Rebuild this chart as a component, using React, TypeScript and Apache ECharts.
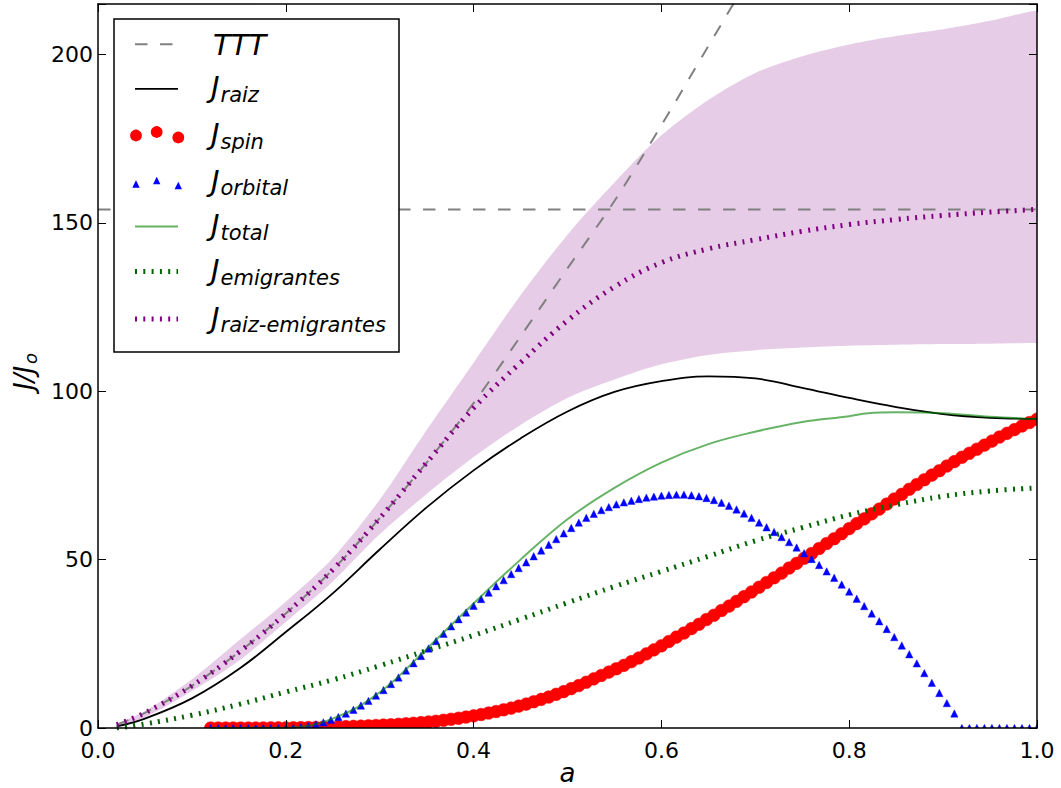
import { useEffect, useRef } from 'react';
import * as echarts from 'echarts';

// ---------- data ----------
const aCurve = [0.02, 0.05, 0.1, 0.15, 0.2, 0.25, 0.3, 0.35, 0.4, 0.45, 0.5, 0.55, 0.6, 0.65, 0.7, 0.75, 0.8, 0.85, 0.9, 0.95, 1.0];
const jRaiz = [0.5, 2.8, 8.8, 17.5, 28.5, 40, 53, 65.5, 76.5, 86, 94, 99.8, 103, 104.4, 103.8, 101, 98, 95.3, 93.2, 92.1, 91.8];
const jRaizEmig = [1, 4.5, 12.5, 22.5, 34, 47, 62.3, 78.8, 95, 108.5, 121, 131, 138.2, 142.3, 145, 147.5, 149.5, 151, 152.2, 153.2, 154];
const jEmig = [0, 1.2, 3.8, 7.0, 10.7, 14.3, 18.5, 23, 27.5, 32.3, 37.2, 42, 46.5, 51, 55.6, 59.5, 63.3, 66.3, 68.8, 70.4, 71.3];
const bandLow = [0.6, 3.2, 11, 20, 31.5, 43.5, 57.5, 69.5, 80.5, 90, 98, 103.5, 108, 110.8, 112.2, 113, 113.5, 113.8, 114, 114.1, 114.3];
const bandHigh = [1.3, 5, 14.5, 26, 37.5, 50.5, 67.8, 88.5, 108.5, 128.5, 146.5, 162, 176, 186.5, 194.5, 199.5, 203, 205.5, 207.5, 210, 213];

const aTTT = [0.02, 0.05, 0.1, 0.15, 0.2, 0.25, 0.3, 0.35, 0.4, 0.45, 0.5, 0.55, 0.6, 0.65, 0.7];
const jTTT = [1, 4.5, 12.5, 22.5, 34, 47, 62.3, 78.8, 96.5, 116.3, 136.5, 156.5, 179, 202.5, 226];
const tttLevel = 154;

const aTotal = [0.12, 0.2, 0.25, 0.3, 0.35, 0.4, 0.45, 0.5, 0.55, 0.6, 0.65, 0.7, 0.75, 0.8, 0.82, 0.85, 0.9, 0.95, 1.0];
const jTotal = [0, 0.1, 2.8, 10.6, 23.5, 37, 50, 62, 71.3, 78.8, 84.3, 88, 90.9, 92.6, 93.5, 93.8, 93.5, 92.4, 91.8];

const aMarks = [
  0.12, 0.128, 0.136, 0.144, 0.152, 0.16, 0.168, 0.176, 0.184, 0.192,
  0.2, 0.208, 0.216, 0.224, 0.232, 0.24, 0.248, 0.256, 0.264, 0.272,
  0.28, 0.288, 0.296, 0.304, 0.312, 0.32, 0.328, 0.336, 0.344, 0.352,
  0.36, 0.368, 0.376, 0.384, 0.392, 0.4, 0.408, 0.416, 0.424, 0.432,
  0.44, 0.448, 0.456, 0.464, 0.472, 0.48, 0.488, 0.496, 0.504, 0.512,
  0.52, 0.528, 0.536, 0.544, 0.552, 0.56, 0.568, 0.576, 0.584, 0.592,
  0.6, 0.608, 0.616, 0.624, 0.632, 0.64, 0.648, 0.656, 0.664, 0.672,
  0.68, 0.688, 0.696, 0.704, 0.712, 0.72, 0.728, 0.736, 0.744, 0.752,
  0.76, 0.768, 0.776, 0.784, 0.792, 0.8, 0.808, 0.816, 0.824, 0.832,
  0.84, 0.848, 0.856, 0.864, 0.872, 0.88, 0.888, 0.896, 0.904, 0.912,
  0.92, 0.928, 0.936, 0.944, 0.952, 0.96, 0.968, 0.976, 0.984, 0.992,
  1.0,
];
const jSpin = [
  0, 0, 0, 0, 0, 0, 0.01, 0.02, 0.03, 0.04,
  0.05, 0.07, 0.1, 0.13, 0.16, 0.2, 0.26, 0.33, 0.4, 0.47,
  0.55, 0.65, 0.76, 0.87, 0.98, 1.1, 1.26, 1.43, 1.6, 1.8,
  2.0, 2.3, 2.6, 2.9, 3.25, 3.6, 4.0, 4.45, 4.9, 5.4,
  5.9, 6.5, 7.1, 7.8, 8.5, 9.2, 10.0, 10.8, 11.7, 12.6,
  13.6, 14.6, 15.6, 16.6, 17.6, 18.6, 19.7, 20.8, 22.0, 23.2,
  24.4, 25.7, 27.0, 28.2, 29.5, 30.8, 32.2, 33.5, 34.9, 36.2,
  37.6, 39.0, 40.4, 41.8, 43.2, 44.6, 46.0, 47.5, 48.9, 50.4,
  51.8, 53.3, 54.8, 56.2, 57.7, 59.2, 60.7, 62.1, 63.6, 65.0,
  66.5, 68.0, 69.4, 70.9, 72.3, 73.7, 75.1, 76.4, 77.8, 79.1,
  80.4, 81.6, 82.8, 84.0, 85.2, 86.4, 87.5, 88.6, 89.7, 90.7,
  91.7,
];
const jOrbital = [
  0, 0, 0, 0, 0, 0, 0, 0, 0, 0,
  0, 0.07, 0.27, 0.6, 1.07, 1.67, 2.4, 3.26, 4.26, 5.4,
  6.66, 8.06, 9.6, 11.26, 13.06, 15.0, 17.06, 19.25, 21.4, 23.6,
  25.8, 28.0, 30.2, 32.3, 34.3, 36.3, 38.3, 40.2, 42.1, 43.9,
  45.7, 47.5, 49.2, 51.0, 52.7, 54.4, 56.1, 57.8, 59.4, 61.0,
  62.4, 63.6, 64.7, 65.6, 66.4, 67.0, 67.5, 68.0, 68.4, 68.7,
  69.0, 69.2, 69.3, 69.3, 69.1, 68.8, 68.3, 67.7, 66.9, 66.0,
  64.9, 63.7, 62.4, 61.0, 59.6, 58.2, 56.7, 55.2, 53.6, 51.9,
  50.2, 48.4, 46.5, 44.6, 42.6, 40.5, 38.4, 36.2, 34.0, 31.7,
  29.4, 27.0, 24.5, 21.9, 19.2, 16.3, 13.4, 10.4, 7.4, 4.3,
  0, 0, 0, 0, 0, 0, 0, 0, 0, 0,
  0,
];

const xTicks = { min: 0, max: 1, interval: 0.2 };
const yTicks = { min: 0, max: 215, interval: 50 };

const legendSubs = ['raiz', 'spin', 'orbital', 'total', 'emigrantes', 'raiz-emigrantes'];

// ---------- styling ----------
const FONT = 'DejaVu Sans';
const GRAY = '#808080';
const TOTAL_GREEN = 'rgba(0,128,0,0.6)';
const EMIG_GREEN = '#006400';
const PURPLE = '#800080';
const BAND = 'rgba(128,0,128,0.2)';

function pairs(xs: number[], ys: number[]) {
  return xs.map((x, i) => [x, ys[i]]);
}

function buildLegend() {
  const rows = [44.3, 88.8, 135.5, 182, 226.5, 271.5, 319];
  const Z = 100;
  const els: any[] = [];
  els.push({
    type: 'rect', z: Z,
    shape: { x: 114, y: 19, width: 285, height: 333 },
    style: { fill: '#fff', stroke: '#000', lineWidth: 1.5 },
  });
  const x1 = 135, x2 = 178;
  els.push({ type: 'line', z: Z + 1, shape: { x1, y1: rows[0], x2, y2: rows[0] }, style: { stroke: GRAY, lineWidth: 2, lineDash: [12.5, 12.5] } });
  els.push({ type: 'line', z: Z + 1, shape: { x1, y1: rows[1], x2, y2: rows[1] }, style: { stroke: '#000', lineWidth: 1.8 } });
  const offs = [[136, 0], [156.7, -3.5], [178.3, 2]];
  offs.forEach(([cx, dy]) => {
    els.push({ type: 'circle', z: Z + 1, shape: { cx, cy: rows[2] + dy, r: 5.9 }, style: { fill: '#ff0000' } });
  });
  const toffs = [[136, 2], [156.7, -1.5], [178.3, 3.5]];
  toffs.forEach(([cx, dy]) => {
    const cy = rows[3] + dy;
    const h = 3.7;
    els.push({ type: 'polygon', z: Z + 1, shape: { points: [[cx, cy - h], [cx - h, cy + h], [cx + h, cy + h]] }, style: { fill: '#0000ff' } });
  });
  els.push({ type: 'line', z: Z + 1, shape: { x1, y1: rows[4], x2, y2: rows[4] }, style: { stroke: TOTAL_GREEN, lineWidth: 2 } });
  els.push({ type: 'line', z: Z + 1, shape: { x1, y1: rows[5], x2, y2: rows[5] }, style: { stroke: EMIG_GREEN, lineWidth: 5, lineDash: [2, 6.3], lineCap: 'butt' } });
  els.push({ type: 'line', z: Z + 1, shape: { x1, y1: rows[6], x2, y2: rows[6] }, style: { stroke: PURPLE, lineWidth: 5, lineDash: [2, 6.3], lineCap: 'butt' } });

  els.push({
    type: 'text', z: Z + 1, x: 213, y: rows[0] + 0.5,
    style: { text: 'TTT', fontSize: 29, fontStyle: 'italic', fontFamily: FONT, fill: '#000', align: 'left', verticalAlign: 'middle' },
  });
  legendSubs.forEach((sub, k) => {
    const r = rows[k + 1];
    els.push({
      type: 'text', z: Z + 1, x: 211, y: r - 1.5,
      style: { text: 'J', fontSize: 29, fontStyle: 'italic', fontFamily: FONT, fill: '#000', align: 'left', verticalAlign: 'middle' },
    });
    els.push({
      type: 'text', z: Z + 1, x: 220.5, y: r + 6.2,
      style: { text: sub, fontSize: 21, fontStyle: 'italic', fontFamily: FONT, fill: '#000', align: 'left', verticalAlign: 'middle' },
    });
  });
  return els;
}

function buildAxisTitles() {
  return [
    {
      type: 'text', z: 100, x: 567.5, y: 773,
      style: { text: 'a', fontSize: 26, fontStyle: 'italic', fontFamily: FONT, fill: '#000', align: 'center', verticalAlign: 'middle' },
    },
    {
      type: 'group', z: 100, x: 24, y: 370, rotation: Math.PI / 2,
      children: [
        { type: 'text', z: 100, x: -20, y: 0, style: { text: 'J/J', fontSize: 26, fontStyle: 'italic', fontFamily: FONT, fill: '#000', align: 'left', verticalAlign: 'middle' } },
        { type: 'text', z: 100, x: 6, y: 6, style: { text: 'o', fontSize: 18, fontStyle: 'italic', fontFamily: FONT, fill: '#000', align: 'left', verticalAlign: 'middle' } },
      ],
    },
  ];
}

function makeOption(): any {
  const axisLine = { show: true, onZero: false, lineStyle: { color: '#000', width: 1.5 } };
  const axisTick = { show: true, inside: true, length: 8, lineStyle: { color: '#000', width: 1 } };
  const labelBase = { color: '#000', fontSize: 22, fontFamily: FONT };
  return {
    animation: false,
    backgroundColor: '#fff',
    grid: { left: 98, top: 4, width: 939, height: 724, containLabel: false },
    xAxis: [
      {
        type: 'value', ...xTicks, position: 'bottom', z: 10,
        axisLine, axisTick, splitLine: { show: false },
        axisLabel: { ...labelBase, margin: 11, showMinLabel: true, showMaxLabel: true, formatter: (v: number) => v.toFixed(1) },
      },
      {
        type: 'value', ...xTicks, position: 'top', z: 10,
        axisLine, axisTick, splitLine: { show: false }, axisLabel: { show: false },
      },
    ],
    yAxis: [
      {
        type: 'value', ...yTicks, position: 'left', z: 10,
        axisLine, axisTick, splitLine: { show: false },
        axisLabel: { ...labelBase, margin: 5, formatter: (v: number) => (v % 50 === 0 ? String(v) : '') },
      },
      {
        type: 'value', ...yTicks, position: 'right', z: 10,
        axisLine, axisTick, splitLine: { show: false }, axisLabel: { show: false },
      },
    ],
    graphic: { elements: [...buildLegend(), ...buildAxisTitles()] },
    series: [
      {
        type: 'custom', name: 'band', data: [[aCurve[0], bandLow[0]]], clip: true, silent: true,
        encode: { x: 0, y: 1 },
        renderItem: (_p: any, api: any) => {
          const top = aCurve.map((a, i) => api.coord([a, bandHigh[i]]));
          const bot = aCurve.map((a, i) => api.coord([a, bandLow[i]])).reverse();
          // pad horizontally beyond the right edge so the smoothing of the
          // closing edge happens outside the clipped plot area
          const tEnd = top[top.length - 1];
          const bEnd = bot[0];
          const pts = [
            ...top,
            [tEnd[0] + 60, tEnd[1]],
            [bEnd[0] + 60, bEnd[1]],
            ...bot,
          ];
          return {
            type: 'polygon',
            shape: { points: pts, smooth: 0.3 },
            style: { fill: BAND, stroke: 'none' },
          };
        },
      },
      {
        type: 'line', name: 'TTT', data: pairs(aTTT, jTTT), symbol: 'none', smooth: 0.3,
        lineStyle: { color: GRAY, width: 2, type: [12.5, 12.5] },
      },
      {
        type: 'line', name: 'TTT', data: [[0, tttLevel], [1, tttLevel]], symbol: 'none',
        lineStyle: { color: GRAY, width: 2, type: [12.5, 12.5] },
      },
      {
        type: 'line', name: 'Jraiz', data: pairs(aCurve, jRaiz), symbol: 'none', smooth: 0.4,
        lineStyle: { color: '#000', width: 1.8 },
      },
      {
        type: 'custom', name: 'Jspin', data: pairs(aMarks, jSpin), clip: true,
        encode: { x: 0, y: 1 },
        renderItem: (_p: any, api: any) => {
          const c = api.coord([api.value(0), api.value(1)]);
          return { type: 'circle', shape: { cx: c[0], cy: c[1], r: 6.3 }, style: { fill: '#ff0000', stroke: '#ff0000', lineWidth: 0.5 } };
        },
      },
      {
        type: 'custom', name: 'Jorbital', data: pairs(aMarks, jOrbital), clip: true,
        encode: { x: 0, y: 1 },
        renderItem: (_p: any, api: any) => {
          const c = api.coord([api.value(0), api.value(1)]);
          const h = 3.7;
          return {
            type: 'polygon',
            shape: { points: [[c[0], c[1] - h], [c[0] - h, c[1] + h], [c[0] + h, c[1] + h]] },
            style: { fill: '#0000ff', stroke: '#0000ff', lineWidth: 0.4 },
          };
        },
      },
      {
        type: 'line', name: 'Jtotal', data: pairs(aTotal, jTotal), symbol: 'none', smooth: 0.4,
        lineStyle: { color: TOTAL_GREEN, width: 2 },
      },
      {
        type: 'line', name: 'Jemigrantes', data: pairs(aCurve, jEmig), symbol: 'none', smooth: 0.4,
        lineStyle: { color: EMIG_GREEN, width: 5, type: [2, 6.3], cap: 'butt' },
      },
      {
        type: 'line', name: 'Jraiz-emigrantes', data: pairs(aCurve, jRaizEmig), symbol: 'none', smooth: 0.4,
        lineStyle: { color: PURPLE, width: 5, type: [2, 6.3], cap: 'butt' },
      },
    ],
  };
}

export default function App() {
  const ref = useRef<HTMLDivElement>(null);
  useEffect(() => {
    if (!ref.current) return;
    const chart = echarts.init(ref.current, null, { renderer: 'svg' });
    chart.setOption(makeOption());
    return () => chart.dispose();
  }, []);
  return (
    <div
      ref={ref}
      style={{ position: 'fixed', left: 0, top: 0, width: 1061, height: 788, background: '#fff' }}
    />
  );
}
